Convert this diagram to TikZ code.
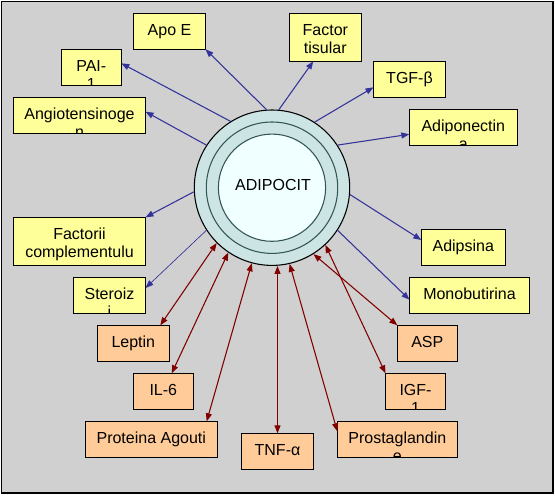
\documentclass[tikz,border=0pt]{standalone}
\usepackage{fontspec}
\setmainfont{Liberation Sans}
\usetikzlibrary{arrows.meta,calc}
\definecolor{bggray}{RGB}{208,208,208}
\definecolor{byellow}{RGB}{255,255,153}
\definecolor{borange}{RGB}{255,204,153}
\definecolor{ringcol}{RGB}{205,228,228}
\definecolor{corecol}{RGB}{240,255,255}
\definecolor{ringline}{RGB}{51,85,85}
\definecolor{bluearr}{RGB}{51,51,153}
\definecolor{redarr}{RGB}{128,0,0}
\begin{document}
\begin{tikzpicture}[x=0.75pt,y=-0.75pt,
  txt/.style={draw=none,fill=none,inner sep=0pt,outer sep=0pt,minimum width=0pt,minimum height=0pt,
    font=\fontsize{12}{14}\selectfont,anchor=base,text=black},
  lines/.style 2 args={path picture={
     \node[txt] at ([yshift=-16.5pt]path picture bounding box.north) {#1};
     \node[txt] at ([yshift=-30.4pt]path picture bounding box.north) {#2};}},
  sz/.style 2 args={minimum width=#1*0.75pt,minimum height=#2*0.75pt},
  boxbase/.style={draw=black,line width=0.75pt,rectangle,inner sep=0pt,outer sep=0pt},
  ybox/.style={boxbase,fill=byellow},
  obox/.style={boxbase,fill=borange},
  tip/.style={Triangle[length=6pt,width=4.5pt]},
  barrow/.style={draw=bluearr,line width=0.8pt,-{Triangle[length=6pt,width=4.5pt]}},
  rarrow/.style={draw=redarr,line width=0.8pt,{Triangle[length=6pt,width=4.5pt]}-{Triangle[length=6pt,width=4.5pt]}},
]
\useasboundingbox (0,0) rectangle (555,495);
\fill[white] (0,0) rectangle (555,495);
\draw[line width=1.1pt,fill=bggray] (1.5,1.5) rectangle (553,493);

% central cell
\node[circle,draw=black,line width=0.8pt,fill=ringcol,minimum size=155.4*0.75pt,inner sep=0pt] (cell) at (272,187.7) {};
\draw[ringline,line width=0.8pt] (cell.center) circle[radius=65.7];
\draw[ringline,line width=0.8pt,fill=corecol] (cell.center) circle[radius=53.6];
\node[txt] (adipotext) at (273,190.7) {ADIPOCIT};

% yellow boxes
\node[ybox,sz={72}{36},lines={Apo E}{}] (apoe) at (169.5,31.3) {};
\node[ybox,sz={72}{48},lines={Factor}{tisular}] (ftis) at (325.3,37.3) {};
\node[ybox,sz={60}{36},lines={PAI-}{1}] (pai) at (91.3,67.3) {};
\node[ybox,sz={72}{36},lines={TGF-β}{}] (tgf) at (409.5,79.3) {};
\node[ybox,sz={132}{36},lines={Angiotensinoge}{n}] (angio) at (79.5,115.3) {};
\node[ybox,sz={108}{36},lines={Adiponectin}{a}] (adipo) at (463.3,127.3) {};
\node[ybox,sz={132}{48},lines={Factorii}{complementulu}] (fcompl) at (79.5,241.3) {};
\node[ybox,sz={84}{36},lines={Adipsina}{}] (adips) at (463.3,247.3) {};
\node[ybox,sz={72}{36},lines={Steroiz}{i}] (ster) at (109.5,295.3) {};
\node[ybox,sz={120}{36},lines={Monobutirina}{}] (mono) at (469.5,295.3) {};

% orange boxes
\node[obox,sz={72}{36},lines={Leptin}{}] (leptin) at (133.3,343.3) {};
\node[obox,sz={60}{36},lines={ASP}{}] (asp) at (427.3,343.3) {};
\node[obox,sz={60}{36},lines={IL-6}{}] (il6) at (163.3,391.3) {};
\node[obox,sz={60}{36},lines={IGF-}{1}] (igf) at (415.5,391.3) {};
\node[obox,sz={132}{36},lines={Proteina Agouti}{}] (agouti) at (151.3,439.3) {};
\node[obox,sz={72}{36},lines={TNF-α}{}] (tnf) at (277.5,451.3) {};
\node[obox,sz={120}{36},lines={Prostaglandin}{e}] (prost) at (397.3,439.3) {};

% blue connectors
\draw[barrow] (cell.94.4) -- (apoe.south east);
\draw[barrow] (cell.85.4) -- ($(ftis.south)+(-12,0)$);
\draw[barrow] (cell.122.5) -- ($(pai.east)+(0,-4)$);
\draw[barrow] (cell.147.5) -- ($(angio.east)+(0,-3.6)$);
\draw[barrow] (cell.57.3) -- ($(tgf.west)+(0,8)$);
\draw[barrow] (cell.33) -- ($(adipo.west)+(0,7)$);
\draw[barrow] (cell.183.9) -- (fcompl.north east);
\draw[barrow,line width=0.5pt] (cell.213) -- ($(ster.east)+(0,-7.3)$);
\draw[barrow] (cell.355.9) -- ($(adips.west)+(0,-7.3)$);
\draw[barrow] (cell.327.6) -- ($(mono.west)+(0,4.4)$);

% red connectors
\draw[rarrow] (cell.225.7) -- ($(leptin.north east)+(-9,0)$);
\draw[rarrow] (cell.236.7) -- ($(il6.north)+(8.4,0)$);
\draw[rarrow] (cell.255.8) -- ($(agouti.north east)+(-10.6,0)$);
\draw[rarrow] (tnf.north |- cell.south) -- (tnf.north);
\draw[rarrow] (cell.283.2) -- ($(prost.north west)+(0,10)$);
\draw[rarrow] (cell.302.5) -- (asp.north west);
\draw[rarrow] (cell.313.8) -- (igf.north west);
\end{tikzpicture}
\end{document}
